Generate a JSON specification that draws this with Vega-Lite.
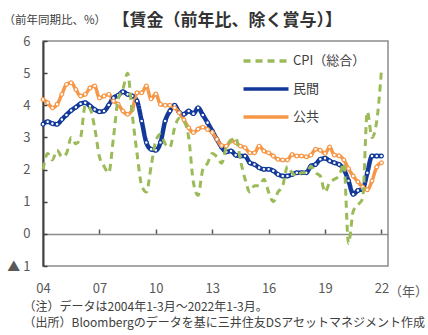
{
  "$schema": "https://vega.github.io/schema/vega-lite/v6.json",
  "width": 345,
  "height": 225,
  "autosize": {"type": "none"},
  "padding": {"left": 43, "top": 41, "right": 40, "bottom": 69},
  "background": "white",
  "config": {
    "font": "Noto Sans CJK JP",
    "view": {"stroke": "#8c8c8c", "strokeWidth": 1.5},
    "axis": {"grid": false, "labelFont": "Noto Sans CJK JP", "titleFont": "Noto Sans CJK JP"},
    "legend": {"labelFont": "Noto Sans CJK JP"}
  },
  "data": {
    "values": [
      {"d": "2004/01/01", "cpi": 2.0, "pri": 3.41, "pub": 4.18},
      {"d": "2004/04/01", "cpi": 2.5, "pri": 3.49, "pub": 4.08},
      {"d": "2004/07/01", "cpi": 2.3, "pri": 3.43, "pub": 3.92},
      {"d": "2004/10/01", "cpi": 2.6, "pri": 3.41, "pub": 4.03},
      {"d": "2005/01/01", "cpi": 2.4, "pri": 3.56, "pub": 4.34},
      {"d": "2005/04/01", "cpi": 2.5, "pri": 3.70, "pub": 4.65},
      {"d": "2005/07/01", "cpi": 3.0, "pri": 3.84, "pub": 4.70},
      {"d": "2005/10/01", "cpi": 2.8, "pri": 3.94, "pub": 4.49},
      {"d": "2006/01/01", "cpi": 3.0, "pri": 4.05, "pub": 4.29},
      {"d": "2006/04/01", "cpi": 4.0, "pri": 4.08, "pub": 4.34},
      {"d": "2006/07/01", "cpi": 3.9, "pri": 3.98, "pub": 4.54},
      {"d": "2006/10/01", "cpi": 3.3, "pri": 3.87, "pub": 4.60},
      {"d": "2007/01/01", "cpi": 2.4, "pri": 3.80, "pub": 4.23},
      {"d": "2007/04/01", "cpi": 2.1, "pri": 3.82, "pub": 4.29},
      {"d": "2007/07/01", "cpi": 1.9, "pri": 4.01, "pub": 4.34},
      {"d": "2007/10/01", "cpi": 3.0, "pri": 4.23, "pub": 4.13},
      {"d": "2008/01/01", "cpi": 4.2, "pri": 4.31, "pub": 4.03},
      {"d": "2008/04/01", "cpi": 4.5, "pri": 4.42, "pub": 3.82},
      {"d": "2008/07/01", "cpi": 5.0, "pri": 4.34, "pub": 3.72},
      {"d": "2008/10/01", "cpi": 3.7, "pri": 4.29, "pub": 3.87},
      {"d": "2009/01/01", "cpi": 2.5, "pri": 4.13, "pub": 4.39},
      {"d": "2009/04/01", "cpi": 1.5, "pri": 3.51, "pub": 4.39},
      {"d": "2009/07/01", "cpi": 1.3, "pri": 2.84, "pub": 4.60},
      {"d": "2009/10/01", "cpi": 2.1, "pri": 2.63, "pub": 4.20},
      {"d": "2010/01/01", "cpi": 2.9, "pri": 2.60, "pub": 4.35},
      {"d": "2010/04/01", "cpi": 3.1, "pri": 2.84, "pub": 4.03},
      {"d": "2010/07/01", "cpi": 2.8, "pri": 3.51, "pub": 4.00},
      {"d": "2010/10/01", "cpi": 2.7, "pri": 3.82, "pub": 4.00},
      {"d": "2011/01/01", "cpi": 3.3, "pri": 4.00, "pub": 3.92},
      {"d": "2011/04/01", "cpi": 3.6, "pri": 3.78, "pub": 3.77},
      {"d": "2011/07/01", "cpi": 3.5, "pri": 3.72, "pub": 3.55},
      {"d": "2011/10/01", "cpi": 3.0, "pri": 3.82, "pub": 3.30},
      {"d": "2012/01/01", "cpi": 1.6, "pri": 3.74, "pub": 3.15},
      {"d": "2012/04/01", "cpi": 1.2, "pri": 3.92, "pub": 3.26},
      {"d": "2012/07/01", "cpi": 2.0, "pri": 3.70, "pub": 3.32},
      {"d": "2012/10/01", "cpi": 2.2, "pri": 3.46, "pub": 3.25},
      {"d": "2013/01/01", "cpi": 2.5, "pri": 3.20, "pub": 3.15},
      {"d": "2013/04/01", "cpi": 2.4, "pri": 2.94, "pub": 2.94},
      {"d": "2013/07/01", "cpi": 2.2, "pri": 2.70, "pub": 2.75},
      {"d": "2013/10/01", "cpi": 2.7, "pri": 2.55, "pub": 2.73},
      {"d": "2014/01/01", "cpi": 2.9, "pri": 2.58, "pub": 2.89},
      {"d": "2014/04/01", "cpi": 3.0, "pri": 2.45, "pub": 2.84},
      {"d": "2014/07/01", "cpi": 2.3, "pri": 2.42, "pub": 2.73},
      {"d": "2014/10/01", "cpi": 1.7, "pri": 2.42, "pub": 2.68},
      {"d": "2015/01/01", "cpi": 1.3, "pri": 2.21, "pub": 2.52},
      {"d": "2015/04/01", "cpi": 1.5, "pri": 2.16, "pub": 2.52},
      {"d": "2015/07/01", "cpi": 1.5, "pri": 2.06, "pub": 2.73},
      {"d": "2015/10/01", "cpi": 1.7, "pri": 2.01, "pub": 2.58},
      {"d": "2016/01/01", "cpi": 1.3, "pri": 2.01, "pub": 2.52},
      {"d": "2016/04/01", "cpi": 1.0, "pri": 1.96, "pub": 2.42},
      {"d": "2016/07/01", "cpi": 1.3, "pri": 1.85, "pub": 2.32},
      {"d": "2016/10/01", "cpi": 1.5, "pri": 1.80, "pub": 2.30},
      {"d": "2017/01/01", "cpi": 2.1, "pri": 1.80, "pub": 2.30},
      {"d": "2017/04/01", "cpi": 1.9, "pri": 1.85, "pub": 2.47},
      {"d": "2017/07/01", "cpi": 1.8, "pri": 1.90, "pub": 2.42},
      {"d": "2017/10/01", "cpi": 1.9, "pri": 1.90, "pub": 2.42},
      {"d": "2018/01/01", "cpi": 1.9, "pri": 1.90, "pub": 2.40},
      {"d": "2018/04/01", "cpi": 2.1, "pri": 2.11, "pub": 2.45},
      {"d": "2018/07/01", "cpi": 1.9, "pri": 2.16, "pub": 2.63},
      {"d": "2018/10/01", "cpi": 1.8, "pri": 2.32, "pub": 2.60},
      {"d": "2019/01/01", "cpi": 1.3, "pri": 2.35, "pub": 2.50},
      {"d": "2019/04/01", "cpi": 1.6, "pri": 2.27, "pub": 2.70},
      {"d": "2019/07/01", "cpi": 1.7, "pri": 2.21, "pub": 2.45},
      {"d": "2019/10/01", "cpi": 1.8, "pri": 2.16, "pub": 2.43},
      {"d": "2020/01/01", "cpi": 2.2, "pri": 2.01, "pub": 2.30},
      {"d": "2020/04/01", "cpi": -0.3, "pri": 1.65, "pub": 2.03},
      {"d": "2020/07/01", "cpi": 0.7, "pri": 1.23, "pub": 1.80},
      {"d": "2020/10/01", "cpi": 0.9, "pri": 1.35, "pub": 1.62},
      {"d": "2021/01/01", "cpi": 1.1, "pri": 1.39, "pub": 1.46},
      {"d": "2021/04/01", "cpi": 3.8, "pri": 1.90, "pub": 1.37},
      {"d": "2021/07/01", "cpi": 3.0, "pri": 2.42, "pub": 1.65},
      {"d": "2021/10/01", "cpi": 3.5, "pri": 2.42, "pub": 2.08},
      {"d": "2022/01/01", "cpi": 5.1, "pri": 2.42, "pub": 2.21}
    ]
  },
  "transform": [{"fold": ["cpi", "pri", "pub"], "as": ["s", "v"]}],
  "resolve": {"axis": {"x": "independent", "y": "independent"}},
  "layer": [
    {
      "transform": [{"filter": "datum.s == 'pri'"}],
      "mark": {"type": "line", "interpolate": "monotone", "strokeWidth": 4.5},
      "encoding": {
        "x": {
          "field": "d", "type": "temporal",
          "scale": {"domain": [{"year": 2004, "month": 1, "date": 1}, {"year": 2022, "month": 5, "date": 8}]},
          "axis": {
            "values": [{"year": 2004, "month": 1, "date": 1}, {"year": 2007, "month": 1, "date": 1}, {"year": 2010, "month": 1, "date": 1}, {"year": 2013, "month": 1, "date": 1}, {"year": 2016, "month": 1, "date": 1}, {"year": 2019, "month": 1, "date": 1}, {"year": 2022, "month": 1, "date": 1}],
            "format": "%y", "ticks": false, "domain": false,
            "labelFontSize": 13, "labelColor": "#595959", "labelPadding": 16, "labelFlush": false,
            "title": ["（注）データは2004年1-3月～2022年1-3月。", "（出所）Bloombergのデータを基に三井住友DSアセットマネジメント作成"],
            "titleX": -20, "titleY": 35, "titleAlign": "left", "titleBaseline": "top", "titleAngle": 0,
            "titleFontSize": 12, "titleFontWeight": "normal", "titleColor": "#404040", "titleLineHeight": 16
          }
        },
        "y": {
          "field": "v", "type": "quantitative",
          "scale": {"domain": [-1, 6], "nice": false, "zero": false},
          "axis": {
            "values": [-1, 0, 1, 2, 3, 4, 5, 6],
            "labelExpr": "datum.value < 0 ? '▲ ' + abs(datum.value) : datum.label",
            "tickSize": -4, "tickColor": "#404040", "tickWidth": 1.5,
            "domainColor": "#404040", "domainWidth": 2,
            "labelFontSize": 13, "labelColor": "#595959", "labelPadding": 17,
            "title": "（前年同期比、%）", "titleAngle": 0, "titleX": -40, "titleY": -21,
            "titleAlign": "left", "titleBaseline": "middle", "titleFontSize": 11.5,
            "titleFontWeight": "normal", "titleColor": "#404040"
          }
        },
        "color": {
          "field": "s", "type": "nominal",
          "scale": {"domain": ["cpi", "pri", "pub"], "range": ["#9bbb59", "#12399a", "#f79646"]},
          "legend": {
            "orient": "none", "legendX": 216, "legendY": 13, "title": null,
            "symbolType": "M-4.5,0H4.5", "symbolSize": 100, "symbolStrokeWidth": 3.5,
            "labelFontSize": 13, "labelColor": "#404040", "rowPadding": 14, "labelOffset": 20,
            "labelExpr": "datum.label == 'cpi' ? 'CPI（総合）' : datum.label == 'pri' ? '民間' : '公共'"
          }
        },
        "strokeDash": {
          "field": "s", "type": "nominal",
          "scale": {"domain": ["cpi", "pri", "pub"], "range": [[7, 5], [1, 0], [1, 0]]},
          "legend": {
            "orient": "none", "legendX": 216, "legendY": 13, "title": null,
            "symbolType": "M-4.5,0H4.5", "symbolSize": 100, "symbolStrokeWidth": 3.5,
            "labelFontSize": 13, "labelColor": "#404040", "rowPadding": 14, "labelOffset": 20,
            "labelExpr": "datum.label == 'cpi' ? 'CPI（総合）' : datum.label == 'pri' ? '民間' : '公共'"
          }
        }
      }
    },
    {
      "transform": [{"filter": "datum.s == 'pub'"}],
      "mark": {"type": "line", "interpolate": "monotone", "strokeWidth": 3.5},
      "encoding": {
        "x": {"field": "d", "type": "temporal", "axis": null},
        "y": {"field": "v", "type": "quantitative", "axis": null},
        "color": {"field": "s", "type": "nominal"},
        "strokeDash": {"field": "s", "type": "nominal"}
      }
    },
    {
      "transform": [{"filter": "datum.s != 'cpi'"}],
      "mark": {"type": "point", "filled": false, "fill": "white", "size": 14, "strokeWidth": 1.2, "opacity": 1},
      "encoding": {
        "x": {
          "field": "d", "type": "temporal",
          "axis": {
            "orient": "bottom", "offset": -32,
            "values": [{"year": 2007, "month": 1, "date": 1}, {"year": 2010, "month": 1, "date": 1}, {"year": 2013, "month": 1, "date": 1}, {"year": 2016, "month": 1, "date": 1}, {"year": 2019, "month": 1, "date": 1}, {"year": 2022, "month": 1, "date": 1}],
            "labels": false, "tickSize": -5, "tickColor": "#595959", "tickWidth": 1.5,
            "domainColor": "#8c8c8c", "domainWidth": 1.5,
            "title": "（年）", "titleX": 365, "titleY": 57, "titleAlign": "center", "titleBaseline": "middle",
            "titleAngle": 0, "titleFontSize": 13, "titleFontWeight": "normal", "titleColor": "#595959"
          }
        },
        "y": {"field": "v", "type": "quantitative", "axis": null},
        "stroke": {
          "field": "s", "type": "nominal",
          "scale": {"domain": ["pri", "pub"], "range": ["#12399a", "#f79646"]},
          "legend": null
        }
      }
    },
    {
      "transform": [{"filter": "datum.s == 'cpi'"}],
      "mark": {"type": "line", "interpolate": "monotone", "strokeWidth": 3},
      "encoding": {
        "x": {"field": "d", "type": "temporal", "axis": null},
        "y": {
          "field": "v", "type": "quantitative",
          "axis": {
            "orient": "left", "labels": false, "ticks": false, "domain": false,
            "title": "【賃金（前年比、除く賞与）】", "titleAngle": 0, "titleX": 69, "titleY": -21,
            "titleAlign": "left", "titleBaseline": "middle", "titleFontSize": 17,
            "titleFontWeight": "bold", "titleColor": "#333333"
          }
        },
        "color": {"field": "s", "type": "nominal"},
        "strokeDash": {"field": "s", "type": "nominal"}
      }
    }
  ]
}
